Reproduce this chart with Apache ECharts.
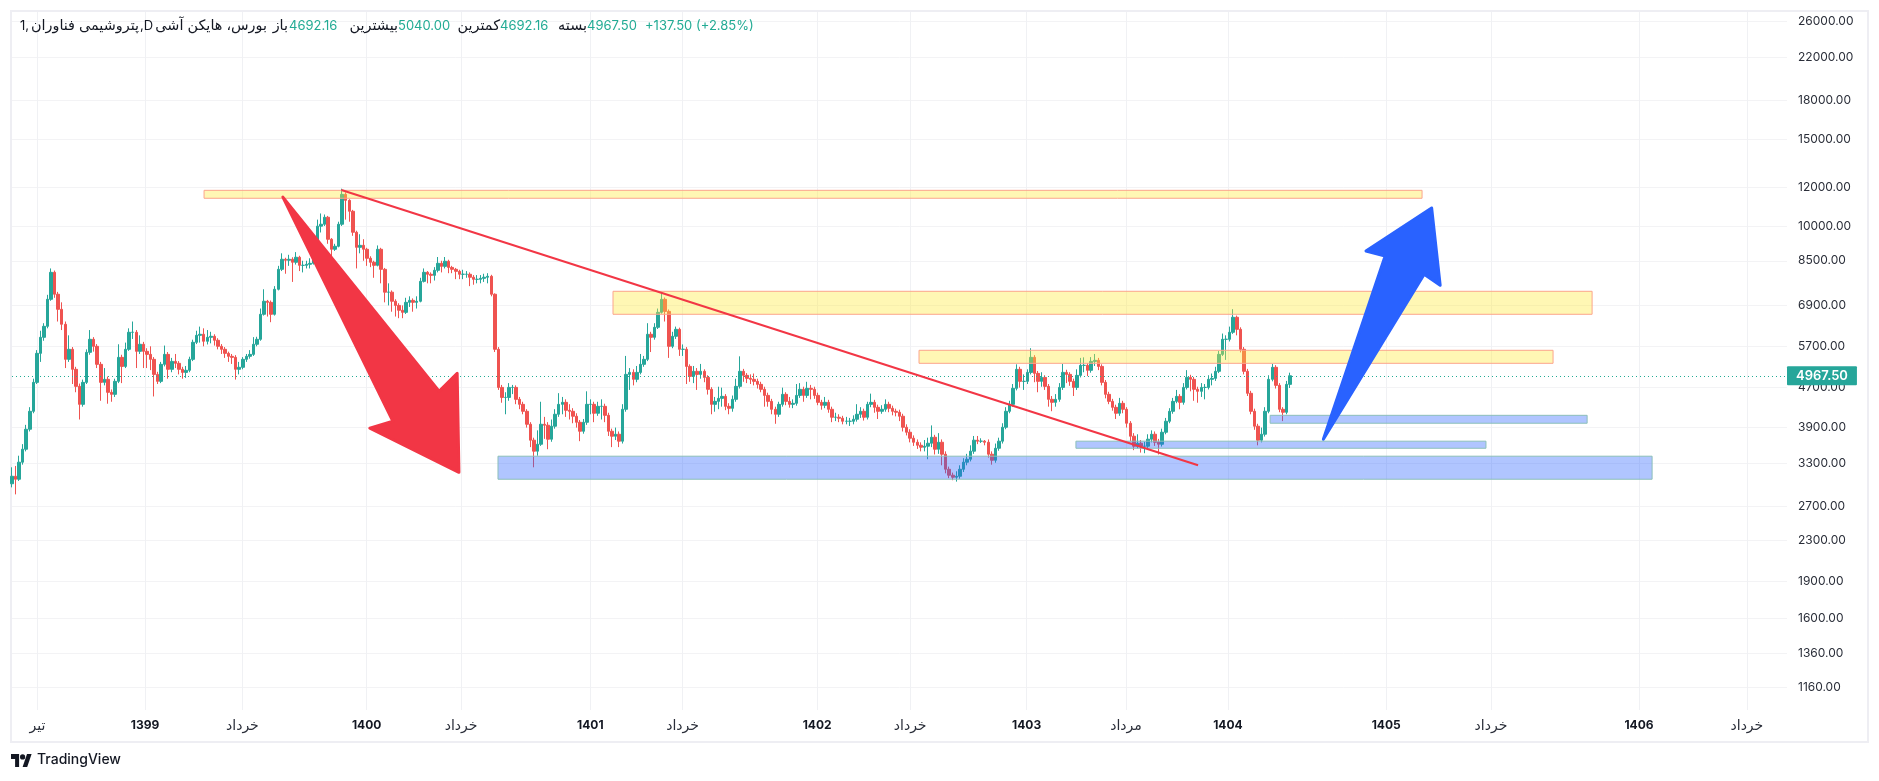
<!DOCTYPE html>
<html><head><meta charset="utf-8"><style>html,body{margin:0;padding:0;background:#fff}#c{width:1879px;height:781px}</style>
<script src="https://cdn.jsdelivr.net/npm/echarts@6/dist/echarts.min.js"></script></head><body><div id="c"></div><script>
const closes=[3107,3064,3318,3525,3870,4208,4817,5516,5945,6258,7100,8053,7270,6775,6318,5364,5621,5120,4728,4347,4817,5542,5890,5700,5240,4817,4886,4598,4555,4840,5414,5190,5621,6086,6086,5568,5755,5568,5490,5364,5000,4840,5240,5490,5120,5313,5265,5120,5047,5096,5364,5808,6000,6030,5836,5945,5973,5863,5700,5621,5516,5440,5414,5120,5168,5364,5440,5490,5755,5890,6620,7035,7000,6620,7440,8167,8559,8520,8559,8440,8640,8320,8320,8360,8400,9050,9990,10080,10415,9397,8968,9095,10080,11590,11270,10710,9710,9050,9135,8968,8600,8440,8320,8968,8167,7340,7340,7035,6900,6745,6680,7000,7065,7000,7035,7720,8053,7980,7940,8130,8400,8280,8480,8240,8167,8090,7980,7980,7980,7870,7794,7794,7830,7870,7905,7270,5621,4705,4490,4490,4705,4705,4450,4347,4208,3961,3677,3493,3608,3961,3943,3694,3925,4150,4347,4388,4228,4208,4112,3998,3834,3998,4347,4347,4170,4307,4307,4130,3834,3746,3781,3660,4248,5000,5047,4886,5047,5240,5364,6030,5945,6230,6680,7100,6710,5700,5973,6171,5621,5621,5190,4954,5072,5000,5072,4930,4663,4347,4408,4470,4512,4307,4267,4450,4728,5072,4977,4908,4886,4840,4772,4663,4533,4408,4248,4150,4347,4555,4408,4347,4368,4533,4663,4533,4685,4663,4533,4388,4327,4388,4248,4093,4093,4074,4017,4017,4017,4055,4150,4208,4093,4347,4388,4287,4208,4248,4347,4267,4208,4189,4112,3906,3816,3711,3642,3591,3558,3575,3625,3728,3525,3642,3444,3210,3122,3093,3107,3210,3318,3364,3493,3677,3660,3660,3642,3444,3348,3541,3660,3906,4208,4347,4685,5120,4840,4840,5047,5414,5024,4840,4930,4728,4450,4388,4450,4705,5047,5000,4840,4705,4977,5215,5215,5096,5313,5338,5190,4817,4555,4408,4287,4170,4368,4248,3980,3746,3575,3625,3575,3575,3694,3781,3642,3608,3816,4017,4208,4408,4512,4388,4705,4930,4886,4663,4620,4705,4705,4886,4908,5072,5490,5890,5890,6086,6528,6171,5621,5072,4577,4208,3925,3677,3781,4208,4886,5168,4750,4248,4189,4772,4967.5];
const opens=[3000,3107,3064,3318,3525,3870,4208,4817,5516,5945,6258,7100,8053,7270,6775,6318,5364,5621,5120,4728,4347,4817,5542,5890,5700,5240,4817,4886,4598,4555,4840,5414,5190,5621,6086,6086,5568,5755,5568,5490,5364,5000,4840,5240,5490,5120,5313,5265,5120,5047,5096,5364,5808,6000,6030,5836,5945,5973,5863,5700,5621,5516,5440,5414,5120,5168,5364,5440,5490,5755,5890,6620,7035,7000,6620,7440,8167,8559,8520,8559,8440,8640,8320,8320,8360,8400,9050,9990,10080,10415,9397,8968,9095,10080,11590,11270,10710,9710,9050,9135,8968,8600,8440,8320,8968,8167,7340,7340,7035,6900,6745,6680,7000,7065,7000,7035,7720,8053,7980,7940,8130,8400,8280,8480,8240,8167,8090,7980,7980,7980,7870,7794,7794,7830,7870,7905,7270,5621,4705,4490,4490,4705,4705,4450,4347,4208,3961,3677,3493,3608,3961,3943,3694,3925,4150,4347,4388,4228,4208,4112,3998,3834,3998,4347,4347,4170,4307,4307,4130,3834,3746,3781,3660,4248,5000,5047,4886,5047,5240,5364,6030,5945,6230,6680,7100,6710,5700,5973,6171,5621,5621,5190,4954,5072,5000,5072,4930,4663,4347,4408,4470,4512,4307,4267,4450,4728,5072,4977,4908,4886,4840,4772,4663,4533,4408,4248,4150,4347,4555,4408,4347,4368,4533,4663,4533,4685,4663,4533,4388,4327,4388,4248,4093,4093,4074,4017,4017,4017,4055,4150,4208,4093,4347,4388,4287,4208,4248,4347,4267,4208,4189,4112,3906,3816,3711,3642,3591,3558,3575,3625,3728,3525,3642,3444,3210,3122,3093,3107,3210,3318,3364,3493,3677,3660,3660,3642,3444,3348,3541,3660,3906,4208,4347,4685,5120,4840,4840,5047,5414,5024,4840,4930,4728,4450,4388,4450,4705,5047,5000,4840,4705,4977,5215,5215,5096,5313,5338,5190,4817,4555,4408,4287,4170,4368,4248,3980,3746,3575,3625,3575,3575,3694,3781,3642,3608,3816,4017,4208,4408,4512,4388,4705,4930,4886,4663,4620,4705,4705,4886,4908,5072,5490,5890,5890,6086,6528,6171,5621,5072,4577,4208,3925,3677,3781,4208,4886,5168,4750,4248,4189,4772];
const highs=[3240,3260,3420,3610,3950,4290,4900,5600,6130,6350,7250,8200,8120,7350,7000,6400,6000,5680,5180,4790,4880,5620,6150,5950,5760,5300,5150,4950,4660,4900,5755,5480,5800,6200,6400,6150,6000,5820,5650,5700,5420,5060,5300,5720,5550,5400,5500,5320,5180,5200,5430,5880,6130,6250,6200,6150,6100,6030,5920,5760,5680,5560,5500,5470,5300,5420,5500,5600,5950,5960,6800,7440,7080,7060,7550,8300,8800,8620,8740,8640,8850,8700,8500,8500,8600,9200,10300,10600,10550,10480,9450,9200,10200,11900,11700,11330,10780,9780,9620,9400,9030,8680,8500,9130,9030,8220,7650,7400,7100,6970,6900,7150,7200,7130,7200,7850,8200,8100,8050,8250,8650,8500,8650,8540,8300,8220,8150,8150,8100,8050,7950,7950,7950,8000,8020,7960,7300,5680,4760,4600,4800,4760,4750,4500,4400,4250,4000,3720,3850,4400,4100,4000,4050,4250,4580,4500,4450,4350,4270,4170,4040,4060,4620,4450,4400,4400,4450,4360,4180,3880,3900,3830,4350,5450,5150,5120,5200,5500,5450,6350,6100,6350,6800,7340,7160,6770,6100,6250,6220,5750,5680,5240,5200,5150,5250,5120,4980,4710,4500,4720,4700,4560,4370,4530,4900,5440,5130,5030,5000,5020,4900,4830,4720,4590,4460,4300,4400,4700,4600,4500,4450,4780,4800,4720,4830,4760,4720,4590,4440,4500,4440,4300,4180,4150,4120,4100,4080,4130,4350,4290,4260,4400,4570,4440,4340,4330,4450,4400,4320,4260,4240,4160,3960,3870,3760,3690,3640,3680,3720,3940,3770,3800,3690,3490,3250,3160,3180,3270,3380,3450,3590,3750,3750,3710,3680,3690,3490,3620,3720,3980,4290,4420,4780,5240,5180,5000,5120,5650,5470,5080,5050,4980,4780,4520,4560,4800,5250,5110,5050,4900,5120,5400,5414,5270,5420,5500,5400,5240,4870,4610,4460,4340,4480,4420,4290,4020,3800,3780,3680,3650,3780,3850,3830,3700,3880,4080,4270,4480,4650,4560,4800,5100,4990,4940,4720,4800,4780,4980,5020,5180,5580,6050,6000,6250,6780,6580,6230,5680,5130,4630,4260,3970,3900,4290,4980,5250,5220,4800,4290,4850,5040];
const lows=[2950,2855,3040,3280,3490,3830,4170,4780,5300,5850,6200,7050,7150,6400,6150,5150,5300,4780,4600,4050,4300,4780,5480,5560,5150,4420,4750,4360,4400,4500,4800,4800,5150,5580,5900,5150,5500,5150,5150,5100,4510,4780,4800,5190,4900,5050,5150,5000,4900,4920,5050,5320,5760,5800,5700,5750,5780,5720,5620,5500,5400,5300,5250,4880,5000,5120,5300,5380,5450,5700,5850,6580,6550,6380,6580,7400,8100,8000,8300,7700,8350,8100,8050,8200,8200,8350,9000,9700,10000,9200,8300,8900,9050,10000,10300,10200,9550,8200,8800,8500,8300,8250,7850,8280,7650,7000,6900,6700,6550,6500,6500,6630,6850,6700,6800,7000,7680,7650,7650,7750,8050,8050,8200,8020,8020,7800,7800,7800,7850,7550,7600,7650,7650,7700,7650,7200,5550,4650,4380,4150,4420,4560,4350,4250,4150,3900,3560,3240,3420,3580,3700,3525,3650,3880,4100,4150,4100,4050,3980,3900,3660,3790,3950,4150,4000,4120,4050,4000,3750,3560,3680,3560,3620,4200,4650,4750,4820,5000,5180,5320,5550,5880,6180,6640,6400,5400,5650,5900,5450,5450,4780,4830,4800,4650,4900,4820,4550,4150,4200,4250,4300,4230,4150,4200,4400,4680,4830,4800,4780,4750,4680,4600,4300,4300,4150,3970,4100,4300,4330,4280,4270,4320,4480,4400,4480,4450,4460,4330,4240,4270,4180,4000,4020,4000,3960,3960,3930,3960,4010,4080,4030,4050,4290,4180,4060,4160,4200,4190,4130,4110,4020,3830,3760,3640,3580,3530,3490,3490,3364,3560,3440,3450,3270,3150,3080,3050,3030,3070,3170,3270,3330,3450,3610,3630,3590,3390,3280,3310,3500,3620,3870,4170,4300,4640,4700,4650,4780,5000,4820,4600,4720,4650,4300,4210,4300,4400,4650,4800,4740,4520,4650,4930,5050,4960,5040,5200,5100,4750,4470,4350,4220,4060,4120,4170,3900,3660,3510,3540,3470,3460,3540,3640,3580,3440,3570,3780,3980,4160,4370,4248,4340,4660,4620,4420,4380,4500,4450,4660,4750,4850,5030,5450,5350,5830,6040,6000,5540,5000,4520,4150,3860,3590,3640,3740,4170,4840,4680,4190,4020,4150,4692.16];
const priceTicks=[26000,22000,18000,15000,12000,10000,8500,6900,5700,4700,3900,3300,2700,2300,1900,1600,1360,1160];
const timeTicks=[7.15,37.5,64.9,99.9,126.5,162.9,188.9,226.8,253,285.8,313.8,342.5,387.1,416.6,458.3,488.7];
const timeLabels=['تیر','1399','خرداد','1400','خرداد','1401','خرداد','1402','خرداد','1403','مرداد','1404','1405','خرداد','1406','خرداد'];
const lastClose=4967.5;
const yellowZones=[[54.1,397.2,11810,11380],[169.3,445.1,7370,6620],[255.5,434.1,5595,5265]];
const blueZones=[[136.9,462,3412,3064],[299.7,415.2,3660,3541],[354.4,443.7,4130,3980]];
const trendLine=[[92.8,11830],[334.1,3272]];
const redArrow=[[76.3,11440],[120.3,4620],[125.4,5024],[125.9,3165],[100.8,3888],[107.3,4017]];
const blueArrow=[[369.4,3694],[397.8,7980],[402.3,7580],[399.9,10880],[381.4,8897],[386.8,8690]];
const up='#26a69a',down='#ef5350',ff="Inter,'DejaVu Sans',sans-serif";
const headerParts=[
 {t:'1,',x:20,a:'left',c:'#131722',s:13},{t:'پتروشیمی فناوران',x:139,a:'right',c:'#131722',s:14.4},{t:',D',x:140,a:'left',c:'#131722',s:13},
 {t:'بورس، هایکن آشی',x:267,a:'right',c:'#131722',s:14.4},{t:'باز',x:288,a:'right',c:'#131722',s:14.4},{t:'4692.16',x:289,a:'left',c:'#22ab94',s:13},
 {t:'بیشترین',x:398,a:'right',c:'#131722',s:14.4},{t:'5040.00',x:398,a:'left',c:'#22ab94',s:13},
 {t:'کمترین',x:500,a:'right',c:'#131722',s:14.4},{t:'4692.16',x:500,a:'left',c:'#22ab94',s:13},
 {t:'بسته',x:587,a:'right',c:'#131722',s:14.4},{t:'4967.50',x:587,a:'left',c:'#22ab94',s:13},{t:'+137.50 (+2.85%)',x:645,a:'left',c:'#22ab94',s:13}];
const chart=echarts.init(document.getElementById('c'),null,{renderer:'canvas'});
const poly=(pts,fill,z)=>({type:'custom',coordinateSystem:'cartesian2d',silent:true,z,clip:false,data:[pts[0]],encode:{x:0,y:1},
 renderItem:(p,api)=>({type:'polygon',shape:{points:pts.map(q=>api.coord(q))},style:{fill,stroke:fill,lineWidth:3,lineJoin:'round'}})});
const zones=(rows,fill,stroke)=>({type:'custom',coordinateSystem:'cartesian2d',silent:true,z:5,clip:false,data:rows.map(r=>[r[0],r[2]]),encode:{x:0,y:1},
 renderItem:(p,api)=>{const r=rows[p.dataIndex],a=api.coord([r[0],r[2]]),b=api.coord([r[1],r[3]]);
  return {type:'rect',shape:{x:a[0],y:a[1],width:b[0]-a[0],height:b[1]-a[1]},style:{fill,stroke,lineWidth:1}}}});
chart.setOption({animation:false,backgroundColor:'#fff',
 grid:{left:12,right:92,top:12,bottom:71,containLabel:false},
 xAxis:{type:'value',min:0,max:500,axisLine:{show:false},
  axisTick:{show:false,customValues:timeTicks},
  splitLine:{show:true,lineStyle:{color:'#f0f1f4',width:1}},
  axisLabel:{customValues:timeTicks,margin:9,hideOverlap:false,fontFamily:ff,fontSize:12,color:'#131722',
   formatter:v=>{const s=timeLabels[timeTicks.indexOf(v)]||'';return /\d/.test(s)?'{y|'+s+'}':'{m|'+s+'}'},
   rich:{y:{fontWeight:700,fontFamily:ff,fontSize:12,color:'#131722'},m:{fontFamily:ff,fontSize:14,color:'#2a2e39'}}}},
 yAxis:{type:'log',logBase:10,min:1043,max:27160,position:'right',axisLine:{show:false},
  axisTick:{show:false,customValues:priceTicks},minorTick:{show:false},minorSplitLine:{show:false},
  splitLine:{show:true,lineStyle:{color:'#f3f3f5',width:1}},
  axisLabel:{customValues:priceTicks,margin:11,hideOverlap:false,fontFamily:ff,fontSize:12,color:'#2a2e39',formatter:v=>Number(v).toFixed(2)}},
 series:[
  {type:'candlestick',barWidth:3,z:3,data:closes.map((c,i)=>[i,opens[i],c,lows[i],highs[i]]),
   itemStyle:{color:up,color0:down,borderColor:up,borderColor0:down,borderColorDoji:up,borderWidth:1},
   markLine:{silent:true,symbol:'none',precision:2,animation:false,z:4,data:[{yAxis:lastClose}],
    lineStyle:{color:'#22ab94',type:[1,3],width:1},
    label:{show:true,position:'end',distance:0,formatter:()=>lastClose.toFixed(2),color:'#fff',fontFamily:ff,fontSize:13,fontWeight:600,backgroundColor:'#26a69a',padding:[3,9,3,9],lineHeight:13,align:'left',borderRadius:1}}},
  zones(yellowZones,'rgba(255,235,59,0.38)','#fca58c'),
  zones(blueZones,'rgba(41,98,255,0.37)','#8cbfb9'),
  {type:'custom',coordinateSystem:'cartesian2d',silent:true,z:6,clip:false,data:[trendLine[0]],encode:{x:0,y:1},
   renderItem:(p,api)=>{const a=api.coord(trendLine[0]),b=api.coord(trendLine[1]);return {type:'line',shape:{x1:a[0],y1:a[1],x2:b[0],y2:b[1]},style:{stroke:'#f23645',lineWidth:2}}}},
  poly(redArrow,'#f23645',7),poly(blueArrow,'#2962ff',7)],
 graphic:[
  {type:'rect',silent:true,z:-1,shape:{x:11,y:11,width:1857,height:731},style:{fill:'none',stroke:'#eeeef3',lineWidth:2}},
  ...headerParts.map(h=>({type:'text',silent:true,z:20,style:{text:h.t,x:h.x,y:26,align:h.a,verticalAlign:'middle',fill:h.c,fontFamily:ff,fontSize:h.s}})),
  {type:'polygon',silent:true,z:20,shape:{points:[[19.1,767],[15.1,767],[15.1,759],[11,759],[11,754],[19.1,754]]},style:{fill:'#131722'}},
  {type:'polygon',silent:true,z:20,shape:{points:[[27.2,767],[22.6,767],[27,754],[31.6,754]]},style:{fill:'#131722'}},
  {type:'circle',silent:true,z:20,shape:{cx:22.6,cy:756.9,r:2.6},style:{fill:'#131722'}},
  {type:'text',silent:true,z:20,style:{text:'TradingView',x:37,y:760,verticalAlign:'middle',fill:'#131722',fontFamily:ff,fontSize:14,fontWeight:500}}
 ]});
</script></body></html>
